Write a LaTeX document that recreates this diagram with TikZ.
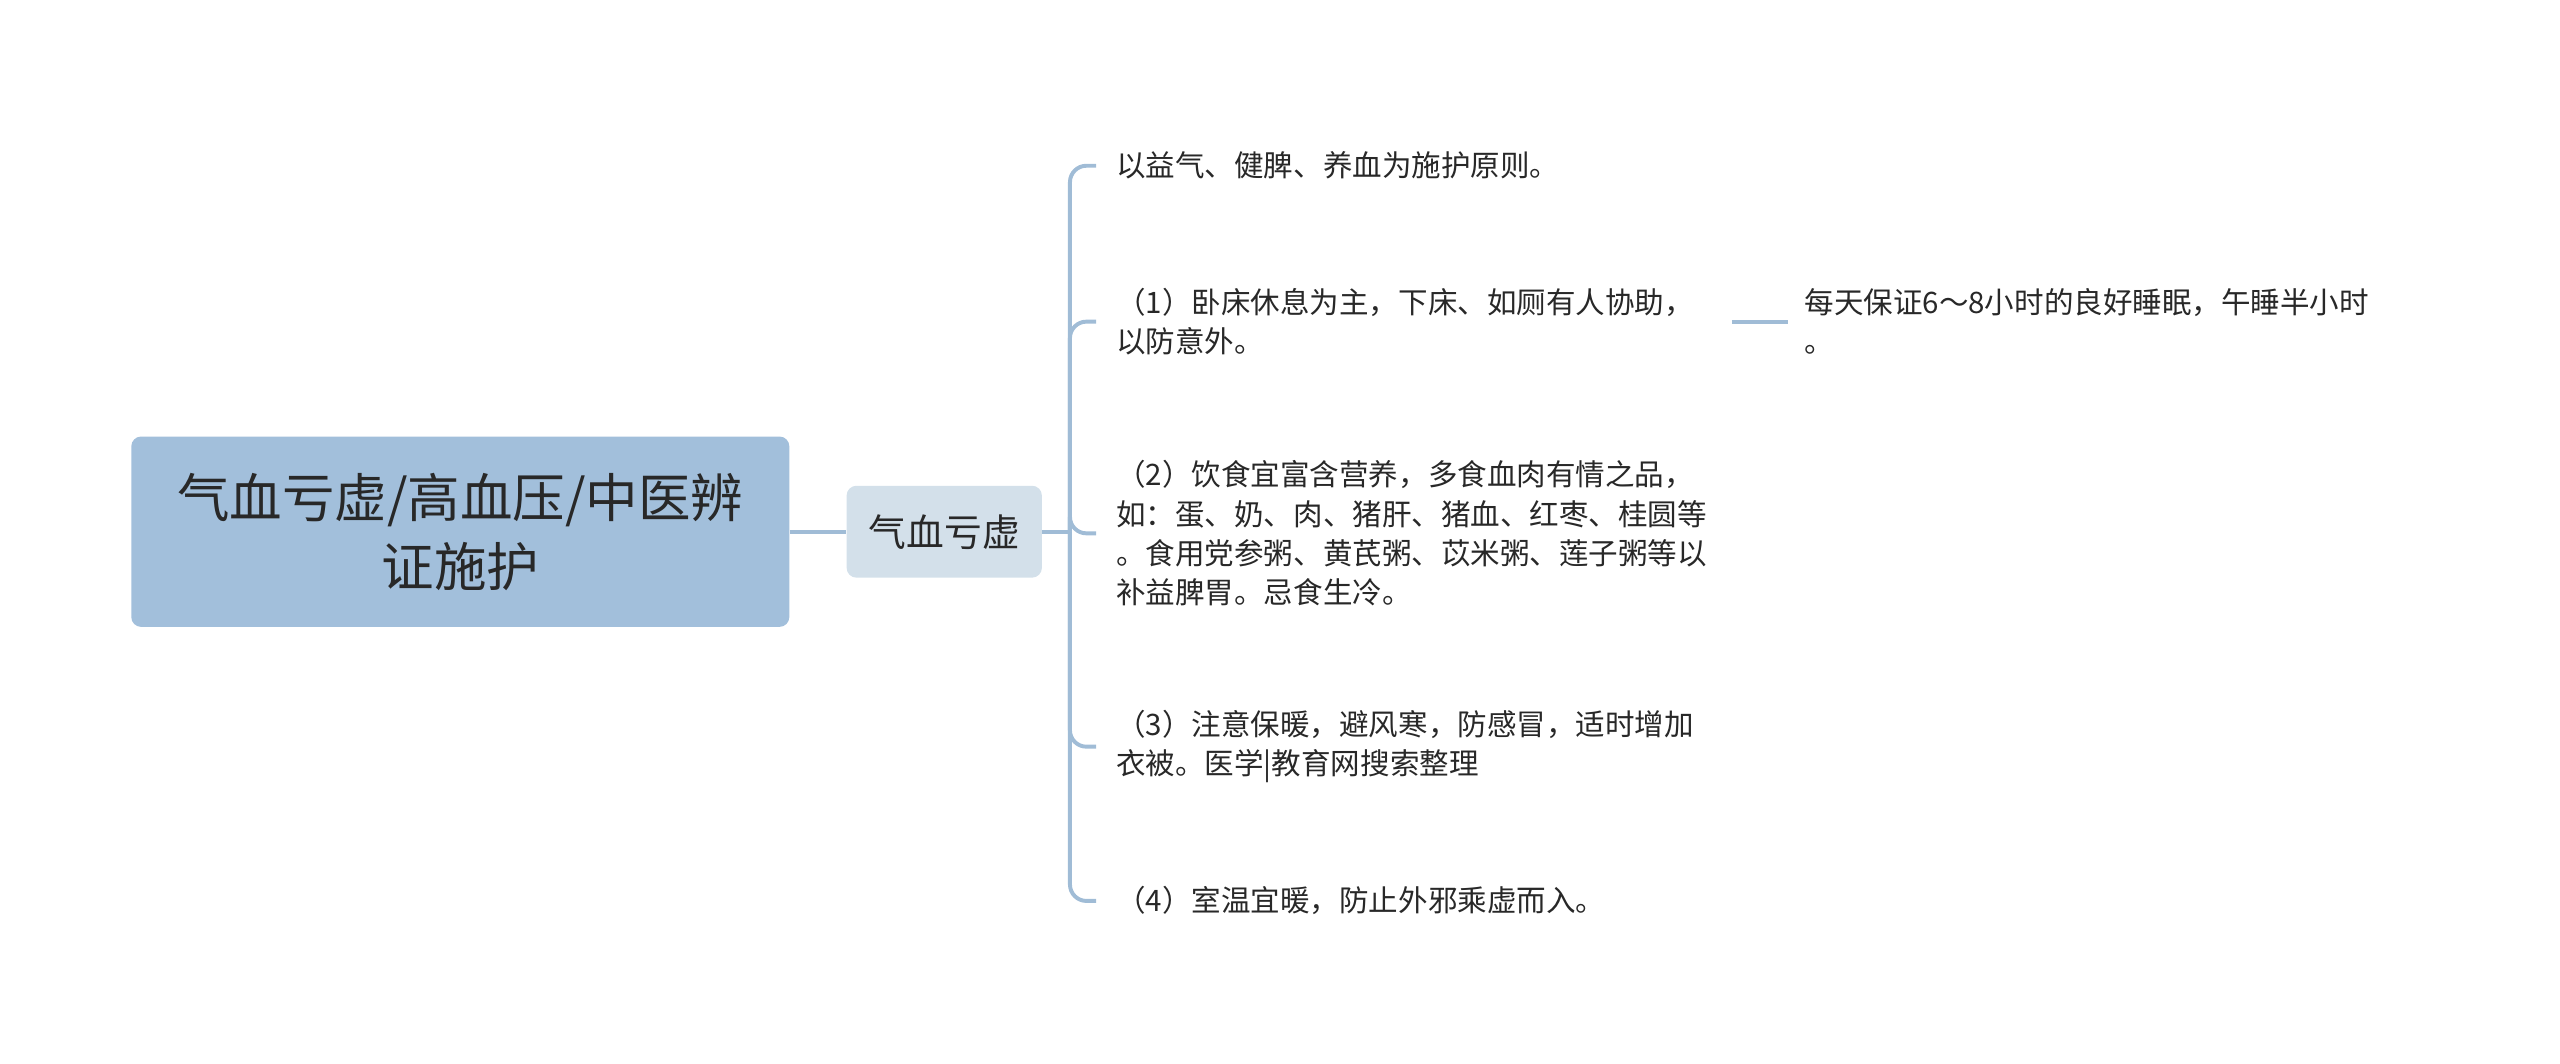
\documentclass[tikz,border=0pt]{standalone}
\usepackage{fontspec}
\setmainfont{Noto Sans CJK SC}
\usetikzlibrary{calc,
positioning}

\definecolor{rootblue}{RGB}{162,191,219}
\definecolor{childblue}{RGB}{211,224,234}
\definecolor{linkblue}{RGB}{160,188,214}
\definecolor{textgray}{RGB}{40,40,40}

\begin{document}
\begin{tikzpicture}[
  x=1pt, y=-1pt,
  every node/.style={text=textgray},
  link/.style={draw=linkblue, line width=2.4pt},
  leaf/.style={
    anchor=west,
    inner xsep=12pt,
    inner ysep=0pt,
    align=left,
    font=\fontsize{18}{24}\selectfont}
]

\useasboundingbox (0,0) rectangle (1560,647.8);

  \node [
    fill=rootblue,
    rounded corners=6pt,
    align=center,
    minimum width = 401pt,
    minimum height = 116pt,
    font=\fontsize{32}{42}\selectfont] (root) at (280.5,324) {气血亏虚/高血压/中医辨\\证施护};
  \node [
    fill=childblue,
    rounded corners=6pt,
    minimum width = 119pt,
    minimum height = 56pt,
    font=\fontsize{23}{28}\selectfont,
    right = 34.5pt of root
  ] (qx) {气血亏虚};

  \coordinate (trunk) at (652,324);

  \node [leaf] (qx0) at (668,101) {以益气、健脾、养血为施护原则。};
  \node [leaf] (qx1) at (668,196) {（1）卧床休息为主，下床、如厕有人协助，\\以防意外。};
  \node [leaf] (qx2) at (668,325) {（2）饮食宜富含营养，多食血肉有情之品，\\如：蛋、奶、肉、猪肝、猪血、红枣、桂圆等\\。食用党参粥、黄芪粥、苡米粥、莲子粥等以\\补益脾胃。忌食生冷。};
  \node [leaf] (qx3) at (668,455) {（3）注意保暖，避风寒，防感冒，适时增加\\衣被。医学|教育网搜索整理};
  \node [leaf] (qx4) at (668,549) {（4）室温宜暖，防止外邪乘虚而入。};

  \node [leaf, inner xsep=10pt, right = 45pt of qx1] (qx1_sub) {每天保证6～8小时的良好睡眠，午睡半小时\\。};

  % connectors
  \draw [link] (root.east) -- (qx.west);
  \draw [link] (qx.east) -- (trunk);
\foreach \i in {0,1,2,3,4} {
  \draw [link, rounded corners=10pt] (trunk) |- (qx\i.west);
}
  \draw [link, shorten <=11pt] (qx1.east) -- (qx1_sub.west);

\end{tikzpicture}
\end{document}
